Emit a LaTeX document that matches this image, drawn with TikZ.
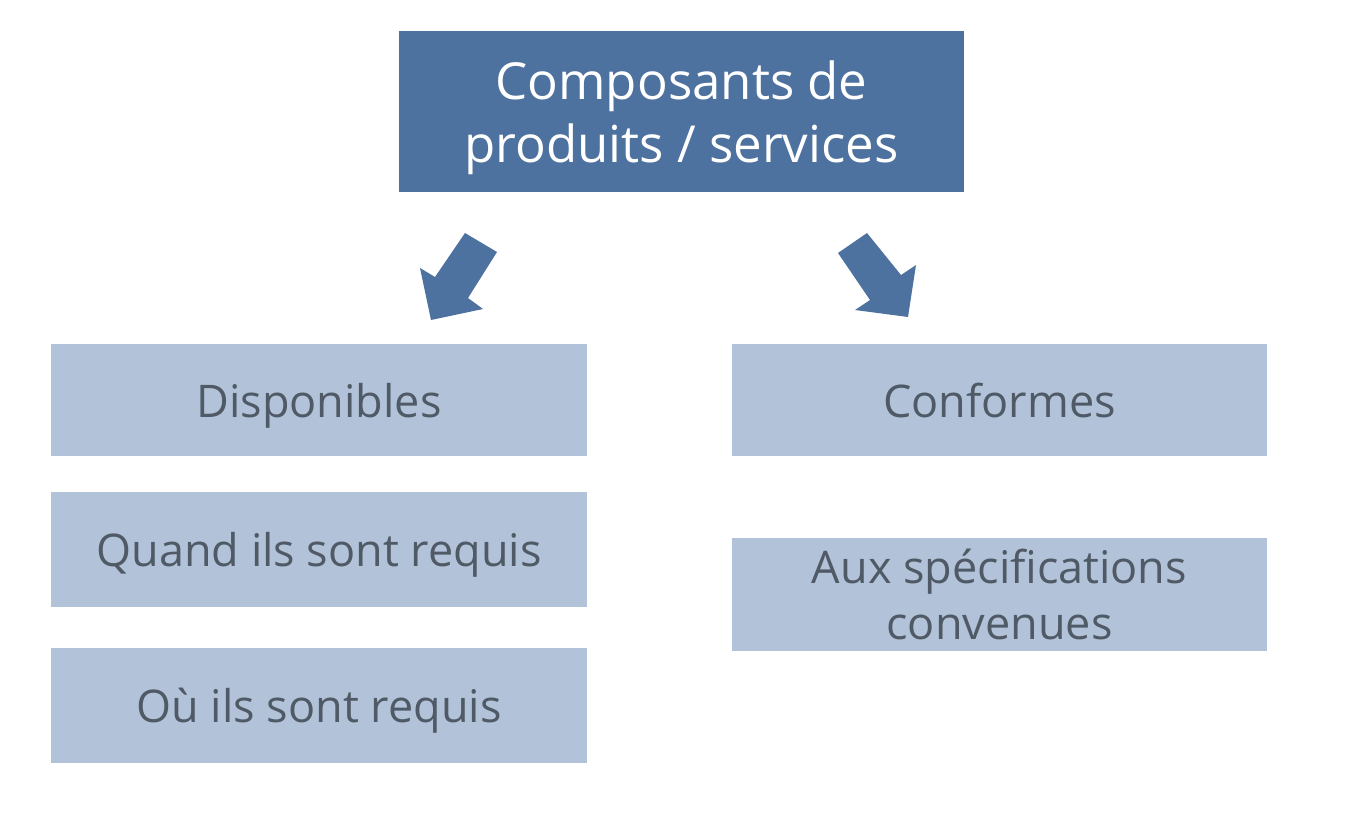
\documentclass[tikz,border=0pt]{standalone}
\usepackage{fontspec}
\setmainfont{Open Sans}
\usepackage{tikz}
\usetikzlibrary{positioning}
\definecolor{headblue}{HTML}{4E72A0}
\definecolor{itemblue}{HTML}{B2C3D9}
\definecolor{itemtext}{HTML}{505A66}
\tikzset{
  head/.style={fill=headblue, text=white, minimum width=565pt, minimum height=161pt,
    align=center, inner sep=0pt, text depth=0pt, font=\fontsize{51}{63}\selectfont},
  item/.style={fill=itemblue, text=itemtext, minimum width=536pt, minimum height=114pt,
    align=center, inner sep=0pt, text depth=0pt, font=\fontsize{45}{56}\selectfont},
  bigarrow/.style={fill=headblue}
}
\begin{document}
\begin{tikzpicture}[x=1pt, y=-1pt]
\useasboundingbox (0,0) rectangle (1355,813);
\fill [white] (0,0) rectangle (1355,813);
\node [head] (comp) at (681.5, 111.5) {Composants de\\produits / services};
\fill [bigarrow] (465,233) -- (497,252) -- (468,298) -- (483,309) -- (431,320) -- (420,268) -- (435,277) -- cycle;
\fill [bigarrow] (867,233) -- (838,253) -- (870,300) -- (855,310) -- (908,317) -- (916,265) -- (901,275) -- cycle;
\node [item, minimum height=112pt] (disp) at (319, 400) {Disponibles};
\node [item, minimum height=115pt] (quand) at (319, 549.5) {Quand ils sont requis};
\node [item, minimum height=115pt] (ou) at (319, 705.5) {Où ils sont requis};
\node [item, minimum width=535pt, minimum height=112pt] (conf) at (999.5, 400) {Conformes};
\node [item, minimum width=535pt, minimum height=113pt] (spec) at (999.5, 594.5) {Aux spécifications\\convenues};
\end{tikzpicture}
\end{document}
